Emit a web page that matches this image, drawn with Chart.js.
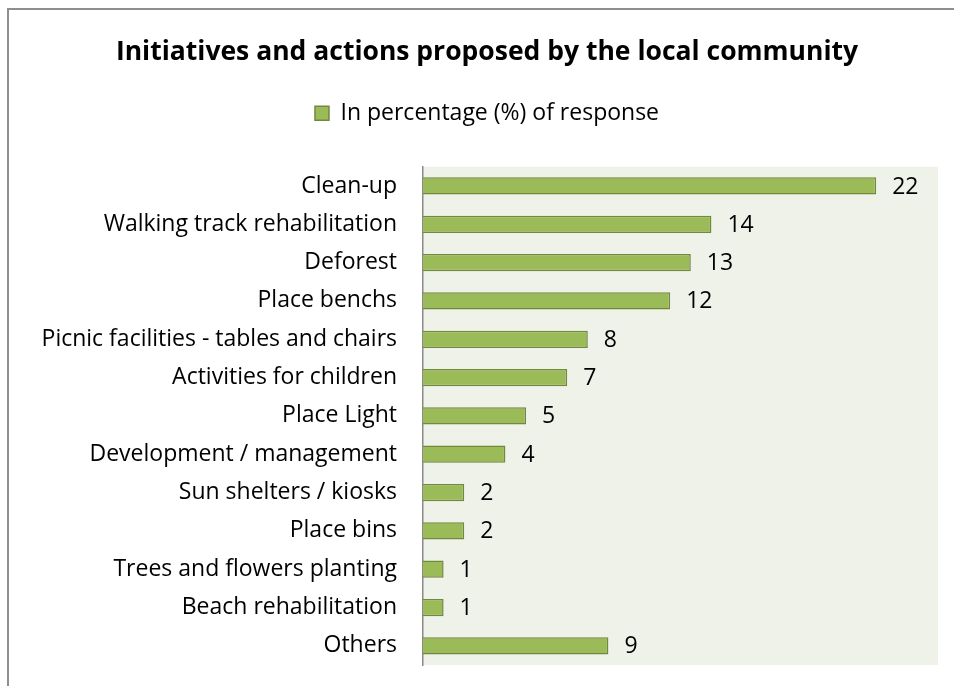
<!DOCTYPE html>
<html>
<head>
<meta charset="utf-8">
<script src="https://cdn.jsdelivr.net/npm/chart.js@4.4.1/dist/chart.umd.min.js"></script>
<style>
  html, body { margin: 0; padding: 0; background: #fff; overflow: hidden; }
  #frame {
    position: absolute; left: 7px; top: 8px; width: 1000px; height: 800px;
    border-left: 2px solid #8e8e8e; border-top: 2px solid #8e8e8e;
  }
  #initiativesChart { position: absolute; left: 0; top: 0; }
</style>
</head>
<body>
<div id="frame"></div>
<canvas id="initiativesChart" width="954" height="686"></canvas>
<script>
// Survey answers, top to bottom
const categories = [
    "Clean-up",
    "Walking track rehabilitation",
    "Deforest",
    "Place benchs",
    "Picnic facilities - tables and chairs",
    "Activities for children",
    "Place Light",
    "Development / management",
    "Sun shelters / kiosks",
    "Place bins",
    "Trees and flowers planting",
    "Beach rehabilitation",
    "Others"
];
const responseShare = [22, 14, 13, 12, 8, 7, 5, 4, 2, 2, 1, 1, 9];
const seriesName = "In percentage (%) of response";

const FONT = "'Open Sans', sans-serif";
const TEXT_SIZE = 23;

// Light green fill behind the bars
const plotBackground = {
    id: "plotBackground",
    beforeDraw(chart) {
        const { ctx, chartArea } = chart;
        ctx.save();
        ctx.fillStyle = "#eff2e9";
        ctx.fillRect(chartArea.left, chartArea.top, chartArea.right - chartArea.left, chartArea.bottom - chartArea.top);
        ctx.restore();
    }
};

// Extra gap between the legend and the bars
const legendGap = {
    id: "legendGap",
    beforeInit(chart) {
        const fit = chart.legend.fit;
        chart.legend.fit = function () {
            fit.call(this);
            this.height += 32;
        };
    }
};

// Value printed right after each bar
const valueLabels = {
    id: "valueLabels",
    afterDatasetsDraw(chart) {
        const { ctx } = chart;
        const meta = chart.getDatasetMeta(0);
        ctx.save();
        ctx.font = TEXT_SIZE + "px " + FONT;
        ctx.fillStyle = "#000";
        ctx.textAlign = "left";
        ctx.textBaseline = "middle";
        meta.data.forEach((bar, i) => {
            ctx.fillText(String(responseShare[i]), bar.x + 16, bar.y + 1);
        });
        ctx.restore();
    }
};

new Chart(document.getElementById("initiativesChart"), {
    type: "bar",
    data: {
        labels: categories,
        datasets: [{
            label: seriesName,
            data: responseShare,
            backgroundColor: "#9bbb59",
            borderColor: "#71893f",
            borderWidth: 1.5,
            barPercentage: 0.45,
            categoryPercentage: 1
        }]
    },
    options: {
        indexAxis: "y",
        responsive: false,
        animation: false,
        layout: { padding: { left: 20, right: 0, bottom: 21, top: 0 } },
        scales: {
            x: {
                display: false,
                min: 0,
                max: 25
            },
            y: {
                grid: { display: false, drawTicks: false },
                border: { display: true, color: "#8a8a8a", width: 1.5 },
                ticks: { color: "#000", font: { family: FONT, size: TEXT_SIZE }, padding: 26 },
                afterFit(axis) {
                    axis.width = 403;
                    axis.paddingTop = 0;
                    axis.paddingBottom = 0;
                }
            },
            // empty strip that keeps the plot off the right edge
            yRight: {
                type: "category",
                axis: "y",
                position: "right",
                grid: { display: false, drawTicks: false },
                border: { display: false },
                ticks: { display: false },
                afterFit(axis) {
                    axis.width = 16;
                    axis.paddingTop = 0;
                    axis.paddingBottom = 0;
                }
            }
        },
        plugins: {
            title: {
                display: true,
                text: "Initiatives and actions proposed by the local community",
                color: "#000",
                font: { family: FONT, size: 26.5, weight: "bold" },
                padding: { top: 37, bottom: 23 }
            },
            legend: {
                position: "top",
                labels: {
                    color: "#000",
                    font: { family: FONT, size: TEXT_SIZE },
                    boxWidth: 14,
                    boxHeight: 14,
                    padding: 10
                }
            },
            tooltip: { enabled: false }
        }
    },
    plugins: [plotBackground, legendGap, valueLabels]
});
</script>
</body>
</html>
